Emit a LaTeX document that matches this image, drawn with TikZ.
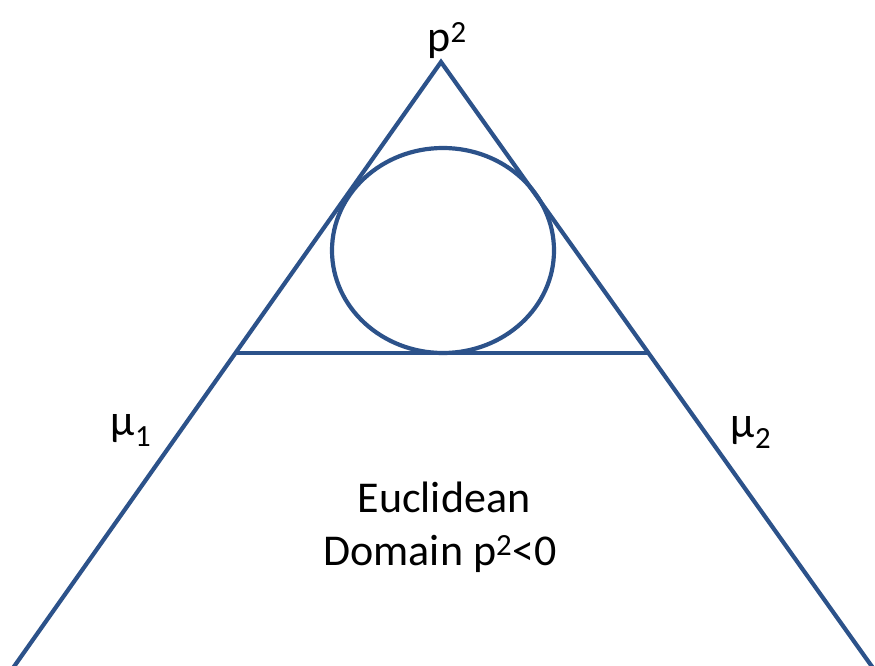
\documentclass[tikz,border=0pt]{standalone}
\usepackage{fontspec}
\setmainfont{Carlito}
\definecolor{lineblue}{RGB}{44,82,138}
\begin{document}
\begin{tikzpicture}[x=1pt,y=-1pt,
  edge/.style={draw=lineblue,line width=4.2pt},
  lbl/.style={inner sep=0pt,font=\fontsize{44}{53}\selectfont}]
\useasboundingbox (0,0) rectangle (875,666);
\coordinate (apex) at (441,62);
\coordinate (bl) at (13,668);
\coordinate (br) at (873,668);
\coordinate (hl) at (234,353);
\coordinate (hr) at (650,353);
\draw[edge,line join=miter] (bl) -- (apex) -- (br);
\draw[edge] (hl) -- (hr);
\draw[edge] (443,250.5) ellipse [x radius=111, y radius=102.5];
\node[lbl,anchor=base] (p) at (447,52) {p\textsuperscript{2}};
\node[lbl,anchor=base] (mu1) at (131,435) {μ\textsubscript{1}};
\node[lbl,anchor=base] (mu2) at (751,437) {μ\textsubscript{2}};
\node[lbl,anchor=base] (e1) at (444,512) {Euclidean};
\node[lbl,anchor=base] (e2) at (440,565) {Domain p\textsuperscript{2}<0};
\end{tikzpicture}
\end{document}
